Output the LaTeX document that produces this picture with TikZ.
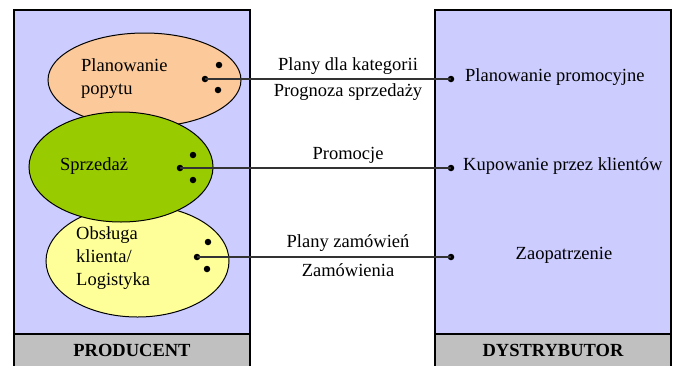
\documentclass[tikz,border=0pt]{standalone}
\usepackage{fontspec}
\setmainfont{Liberation Serif}
\usetikzlibrary{shapes.geometric}
\definecolor{boxfill}{HTML}{CCCCFF}
\definecolor{orangefill}{HTML}{FBC99A}
\definecolor{greenfill}{HTML}{99CC00}
\definecolor{yellowfill}{HTML}{FFFF99}
\definecolor{grayfill}{HTML}{C0C0C0}
\definecolor{linecol}{HTML}{333333}
\tikzset{
  panel/.style={draw=black, line width=1.8pt, fill=boxfill},
  band/.style={draw=black, line width=1.8pt, fill=grayfill},
  blob/.style={draw=black, line width=1pt},
  dotn/.style={circle, fill=black, inner sep=0pt, minimum size=6.5pt},
  conn/.style={draw=linecol, line width=1.4pt},
  txt/.style={font=\fontsize{18.5}{23}\selectfont, inner sep=0pt},
  btxt/.style={font=\fontsize{18.5}{23}\selectfont\bfseries, inner sep=0pt},
}
\begin{document}
\begin{tikzpicture}[x=1pt,y=-1pt]
\useasboundingbox (0,0) rectangle (677,365);
\fill[white] (0,0) rectangle (677,365);
% panels
\draw[panel] (14,10) rectangle (250,334);
\draw[band] (14,334) rectangle (250,368);
\draw[panel] (435,10) rectangle (671,334);
\draw[band] (435,334) rectangle (671,368);
\node[btxt] (prod) at (132,350) {PRODUCENT};
\node[btxt] (dyst) at (553,350) {DYSTRYBUTOR};
% ellipses
\draw[blob, fill=orangefill] (144.5,80) ellipse [x radius=96.5, y radius=47];
\draw[blob, fill=yellowfill] (137.5,261) ellipse [x radius=91.5, y radius=56];
\draw[blob, fill=greenfill] (121,167) ellipse [x radius=92, y radius=55];
% ellipse texts
\node[txt, align=left, anchor=west] (plan) at (81,79) {Planowanie\\popytu};
\node[txt, anchor=mid west] (sprz) at (60,168) {Sprzeda\.z};
\node[txt, align=left, anchor=west] (obsl) at (76,258) {Obsługa\\klienta/\\Logistyka};
% dots
\node[dotn] (o1) at (219,65) {};
\node[dotn] (o2) at (205,79) {};
\node[dotn] (o3) at (218,90) {};
\node[dotn] (g1) at (193,155) {};
\node[dotn] (g2) at (180,168) {};
\node[dotn] (g3) at (193,180) {};
\node[dotn] (y1) at (208,242) {};
\node[dotn] (y2) at (197,257) {};
\node[dotn] (y3) at (207,269) {};
\node[dotn] (r1) at (451,79) {};
\node[dotn] (r2) at (451,168) {};
\node[dotn] (r3) at (451,257) {};
% connectors
\draw[conn] (o2.center) -- (r1.center);
\draw[conn] (g2.center) -- (r2.center);
\draw[conn] (y2.center) -- (r3.center);
% connector labels
\node[txt] (l1) at (348,66) {Plany dla kategorii};
\node[txt] (l2) at (348,92) {Prognoza sprzedaży};
\node[txt] (l3) at (348,155) {Promocje};
\node[txt] (l4) at (348,243) {Plany zamówień};
\node[txt] (l5) at (348,270) {Zamówienia};
% right texts
\node[txt, anchor=mid west] (t1) at (465,79) {Planowanie promocyjne};
\node[txt, anchor=mid west] (t2) at (463,168) {Kupowanie przez klientów};
\node[txt, anchor=mid] (t3) at (564,257) {Zaopatrzenie};
\end{tikzpicture}
\end{document}
